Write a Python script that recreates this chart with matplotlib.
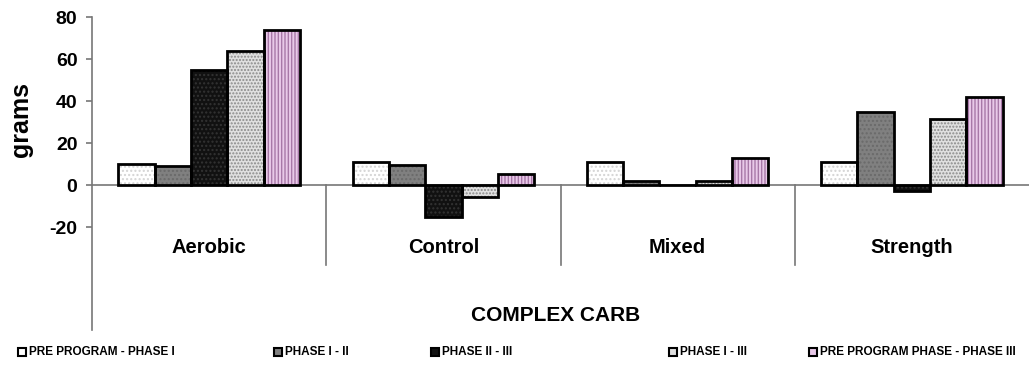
import numpy as np
import matplotlib
matplotlib.use("Agg")
import matplotlib.pyplot as plt
from matplotlib.patches import Rectangle

plt.rcParams['font.family'] = ['Liberation Sans', 'DejaVu Sans']
plt.rcParams['font.weight'] = 'bold'
plt.rcParams['hatch.linewidth'] = 1.0
plt.rcParams['axes.unicode_minus'] = False

categories = ["Aerobic", "Control", "Mixed", "Strength"]
series_names = ["PRE PROGRAM - PHASE I", "PHASE I - II", "PHASE II - III",
                "PHASE I - III", "PRE PROGRAM PHASE - PHASE III"]
pre_phase1 = [10, 11, 11, 11]
phase1_2 = [9, 9.5, 2, 35]
phase2_3 = [55, -15, 0, -3]
phase1_3 = [64, -5.5, 2, 31.5]
pre_phase3 = [74, 5.5, 13, 42]
yticks = [-20, 0, 20, 40, 60, 80]

values = [pre_phase1, phase1_2, phase2_3, phase1_3, pre_phase3]
faces = ["#ffffff", "#808080", "#111111", "#e0e0e0", "#e9c9e9"]
hatch_cols = ["#d4d4d4", "#6a6a6a", "#333333", "#8a8a8a", "#a878a8"]
hatches = ["....", "....", "....", ".....", "|||||"]

fig = plt.figure(figsize=(10.29, 3.66), dpi=100)
ax = fig.add_axes([92 / 1029, 36 / 366, 1 - 92 / 1029, (330 - 17) / 366])

x = np.arange(len(categories))
w = 0.155
for i, vals in enumerate(values):
    pos = x + (i - 2) * w
    ax.bar(pos, vals, w, color=faces[i], edgecolor=hatch_cols[i],
           hatch=hatches[i], linewidth=0, zorder=2)
    ax.bar(pos, vals, w, fill=False, edgecolor="black", linewidth=2, zorder=3)

ax.set_xlim(-0.5, len(categories) - 0.5)
ax.set_ylim(-69, 80)
ax.axhline(0, color="#777777", linewidth=1.2, zorder=1)
for b in x[1:] - 0.5:
    ax.plot([b, b], [0, -38], color="#777777", linewidth=1.2, zorder=1)

for s in ["top", "right", "bottom"]:
    ax.spines[s].set_visible(False)
ax.spines["left"].set_color("#777777")
ax.spines["left"].set_linewidth(1.2)
ax.set_xticks([])
ax.set_yticks(yticks)
ax.tick_params(axis="y", length=4.5, width=1.2, color="#777777", labelsize=14, pad=6)
for t in ax.get_yticklabels():
    t.set_fontweight("bold")

for xi, c in zip(x, categories):
    ax.text(xi, -29.5, c, ha="center", va="center", fontsize=14.5, fontweight="bold")
ax.text(1.5 - 0.02, -62, "COMPLEX CARB", ha="center", va="center",
        fontsize=15, fontweight="bold")

fig.text(21 / 1029, 1 - 120 / 366, "grams", rotation=90, ha="center", va="center",
         fontsize=18, fontweight="bold")

# legend, laid out by hand like the Excel one
leg_x = [22, 278, 435, 673, 813]
for i, name in enumerate(series_names):
    x0 = (leg_x[i] - 4) / 1029
    y0 = 1 - 356 / 366
    fig.patches.append(Rectangle((x0, y0), 8 / 1029, 8 / 366, transform=fig.transFigure,
                                 facecolor=faces[i], edgecolor="black", linewidth=1.5))
    fig.text((leg_x[i] + 7) / 1029, 1 - 352 / 366, name, ha="left", va="center",
             fontsize=8.5, fontweight="bold")

fig.savefig("out.png", dpi=100)
